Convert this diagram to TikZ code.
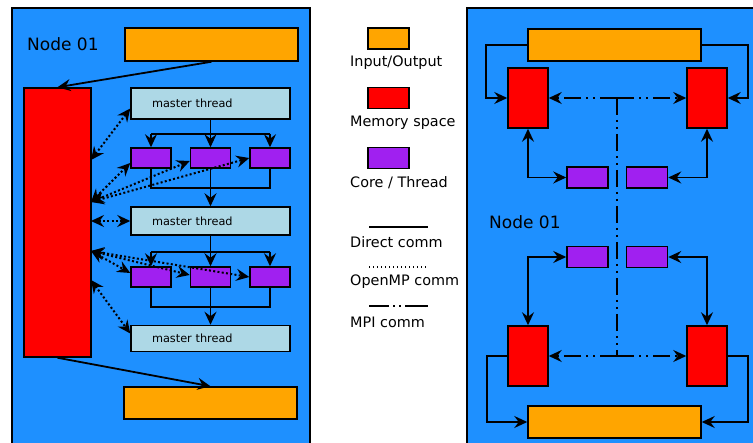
\documentclass[tikz,border=0pt]{standalone}
\usepackage{fontspec}
\setmainfont{DejaVu Sans}
\usetikzlibrary{arrows.meta}
\definecolor{panelblue}{HTML}{1E90FF}
\definecolor{iobox}{HTML}{FFA500}
\definecolor{memred}{HTML}{FF0000}
\definecolor{corepurple}{HTML}{A020F0}
\definecolor{masterblue}{HTML}{ADD8E6}
\begin{document}
\begin{tikzpicture}[x=1pt, y=-1pt,
	>={Stealth[length=13pt,width=12pt,inset=4.5pt]},
	box/.style={draw, line width=1.5pt, inner sep=0pt},
	io/.style={box, fill=iobox, minimum width=173pt, minimum height=33pt},
	membox/.style={box, fill=memred},
	core/.style={box, fill=corepurple, minimum width=40pt, minimum height=20pt},
	master/.style={box, fill=masterblue, minimum width=159pt, inner xsep=21pt, text width=117pt, align=left, font=\fontsize{11.3}{13}\selectfont},
	link/.style={line width=1.8pt},
	omp/.style={line width=2pt, dash pattern=on 2pt off 2.3pt},
	mpi/.style={line width=1.8pt, dash pattern=on 17pt off 5pt on 2pt off 5pt on 2pt off 5pt},
	lbl/.style={anchor=west, inner sep=0pt, font=\fontsize{14.4}{17}\selectfont},
	tag/.style={lbl, font=\fontsize{17}{20}\selectfont}]
	\useasboundingbox (0,0) rectangle (753,443);
	\clip (0,0) rectangle (753,443);
	\draw[line width=2pt, fill=panelblue] (12,8) rectangle (310,450);
	\draw[line width=2pt, fill=panelblue] (467,8) rectangle (760,450);

	\node[tag] (tag1) at (27,44) {Node 01};
	\node[io] (in1) at (211.5,44.5) {};
	\node[membox, minimum width=67pt, minimum height=269pt] (mem) at (57.5,222.5) {};
	\node[master, minimum height=31pt] (mt1) at (210.5,103.5) {master thread};
	\node[core] (c1) at (151,158) {};
	\node[core] (c2) at (210.5,158) {};
	\node[core] (c3) at (270,158) {};
	\node[master, minimum height=28pt] (mt2) at (210.5,221) {master thread};
	\node[core] (c4) at (151,277) {};
	\node[core] (c5) at (210.5,277) {};
	\node[core] (c6) at (270,277) {};
	\node[master, minimum height=26pt] (mt3) at (210.5,338.5) {master thread};
	\node[io, minimum height=32pt] (out1) at (210.5,403) {};

	\draw[link,->] (in1.south) -- (mem.north);
	\draw[link,->] (mem.south) -- (out1.north);
	\draw[link] (mt1.south) -- ++(0,14) coordinate (f1);
	\draw[link] (c1.north |- f1) -- (c3.north |- f1);
	\draw[link,->] (c1.north |- f1) -- (c1.north);
	\draw[link,->] (f1) -- (c2.north);
	\draw[link,->] (c3.north |- f1) -- (c3.north);
	\draw[link] (c1.south) -- ++(0,19) coordinate (g1) -- (c3.south |- g1) -- (c3.south);
	\draw[link,->] (c2.south) -- (mt2.north);
	\draw[link] (mt2.south) -- ++(0,16) coordinate (f2);
	\draw[link] (c4.north |- f2) -- (c6.north |- f2);
	\draw[link,->] (c4.north |- f2) -- (c4.north);
	\draw[link,->] (f2) -- (c5.north);
	\draw[link,->] (c6.north |- f2) -- (c6.north);
	\draw[link] (c4.south) -- ++(0,19) coordinate (g2) -- (c6.south |- g2) -- (c6.south);
	\draw[link,->] (c5.south) -- (mt3.north);

	\coordinate (r1) at (91,160);
	\coordinate (r2) at (91,202);
	\coordinate (r3) at (91,221);
	\coordinate (r4) at (91,251);
	\coordinate (r5) at (91,280);
	\draw[omp,<->] (r1) -- ([yshift=-5pt]mt1.west);
	\draw[omp,<->] (r2) -- ([yshift=-5pt]c1.west);
	\draw[omp,<->] (r2) -- ([yshift=-3pt]c2.west);
	\draw[omp,<->] (r2) -- (c3.west);
	\draw[omp,<->] (r3) -- (mt2.west);
	\draw[omp,<->] (r4) -- ([yshift=4pt]c4.west);
	\draw[omp,<->] (r4) -- ([yshift=2pt]c5.west);
	\draw[omp,<->] (r4) -- (c6.west);
	\draw[omp,<->] (r5) -- ([yshift=5pt]mt3.west);

	\node[io, minimum width=41pt, minimum height=21pt] (k1) at (388.5,38.5) {};
	\node[lbl] (t1) at (350,63) {Input/Output};
	\node[membox, minimum width=41pt, minimum height=21pt] (k2) at (388.5,98) {};
	\node[lbl] (t2) at (350,123) {Memory space};
	\node[core, minimum width=41pt, minimum height=21pt] (k3) at (388.5,158) {};
	\node[lbl] (t3) at (350,183) {Core / Thread};
	\draw[link] (369,227) -- (428,227);
	\node[lbl] (t4) at (350,242) {Direct comm};
	\draw[line width=1.4pt, dash pattern=on 1.4pt off 2.6pt] (369,267) -- (428,267);
	\node[lbl] (t5) at (350,282) {OpenMP comm};
	\draw[line width=1.8pt, dash pattern=on 20pt off 4pt on 2pt off 4pt on 2pt off 4pt on 30pt] (369,306) -- (428,306);
	\node[lbl] (t6) at (350,322) {MPI comm};

	\node[tag] (tag2) at (489,222) {Node 01};
	\node[io, minimum height=32pt] (in2) at (614.5,45) {};
	\node[membox, minimum width=40pt, minimum height=60pt] (ma) at (528,98) {};
	\node[membox, minimum width=40pt, minimum height=60pt] (mb) at (707,98) {};
	\node[membox, minimum width=40pt, minimum height=60pt] (mc) at (528,356) {};
	\node[membox, minimum width=40pt, minimum height=60pt] (md) at (707,356) {};
	\node[core, minimum width=41pt, minimum height=21pt] (ca) at (587.5,177.5) {};
	\node[core, minimum width=41pt, minimum height=21pt] (cb) at (647,177.5) {};
	\node[core, minimum width=41pt, minimum height=21pt] (cc) at (587.5,257) {};
	\node[core, minimum width=41pt, minimum height=21pt] (cd) at (647,257) {};
	\node[io, minimum height=32pt] (out2) at (614.5,422) {};
	\coordinate (j1) at (617,98);
	\coordinate (j2) at (617,356);

	\draw[link,->] (in2.west) -- ++(-41,0) |- (ma.west);
	\draw[link,->] (in2.east) -- ++(46,0) |- (mb.east);
	\draw[link,<->] (ma.south) |- (ca.west);
	\draw[link,<->] (mb.south) |- (cb.east);
	\draw[link,<->] (cc.west) -| (mc.north);
	\draw[link,<->] (cd.east) -| (md.north);
	\draw[link,->] (mc.west) -- ++(-20,0) |- (out2.west);
	\draw[link,->] (md.east) -- ++(20,0) |- (out2.east);
	\draw[mpi,->] (j1) -- (ma.east);
	\draw[mpi,->] (j1) -- (mb.west);
	\draw[mpi] (j1) -- (j2);
	\draw[mpi,->] (j2) -- (mc.east);
	\draw[mpi,->] (j2) -- (md.west);
\end{tikzpicture}
\end{document}
